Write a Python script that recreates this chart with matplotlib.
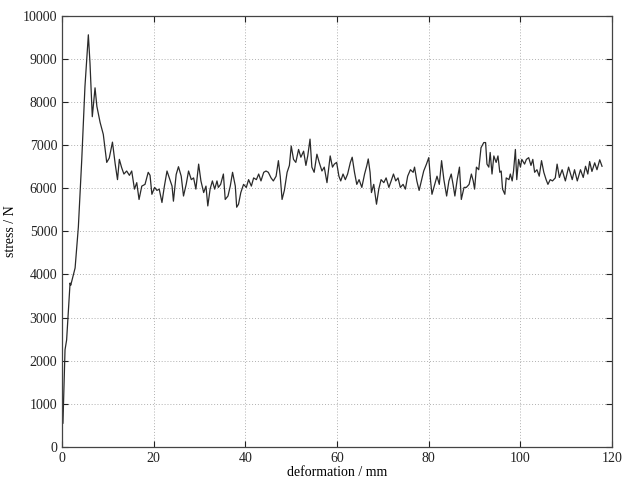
import matplotlib
matplotlib.use("Agg")
import matplotlib.pyplot as plt

deformation_mm = [
    0.2, 0.65, 1.0, 1.75, 1.9, 2.85, 3.56, 4.3, 5.0, 5.74, 6.1, 6.6, 7.2, 7.6, 8.3, 9.0,
    9.75, 10.3, 11.0, 11.6, 12.1, 12.5, 13.0, 13.5, 14.1, 14.7, 15.2, 15.8, 16.3, 16.8,
    17.4, 18.1, 18.8, 19.2, 19.6, 20.2, 20.7, 21.2, 21.8, 22.3, 22.9, 23.4, 24.0, 24.3,
    24.9, 25.4, 26.0, 26.5, 27.1, 27.6, 28.2, 28.7, 29.2, 29.8, 30.3, 30.9, 31.4, 31.8,
    32.3, 32.8, 33.3, 33.8, 34.1, 34.6, 35.2, 35.6, 36.2, 36.7, 37.2, 37.8, 38.1, 38.5,
    39.0, 39.6, 40.2, 40.7, 41.3, 41.8, 42.4, 42.9, 43.4, 44.0, 44.5, 45.0, 45.6, 46.1,
    46.7, 47.2, 47.6, 48.0, 48.5, 49.1, 49.6, 50.0, 50.5, 51.0, 51.6, 52.1, 52.7, 53.2,
    53.6, 54.1, 54.5, 55.0, 55.6, 56.1, 56.7, 57.2, 57.8, 58.5, 59.0, 59.4, 59.9, 60.4,
    60.8, 61.3, 61.8, 62.3, 62.9, 63.3, 63.8, 64.3, 64.8, 65.4, 66.0, 66.5, 66.8, 67.2,
    67.5, 68.0, 68.6, 69.1, 69.6, 70.2, 70.7, 71.3, 71.8, 72.3, 72.8, 73.3, 73.8, 74.4,
    74.9, 75.4, 76.0, 76.6, 76.9, 77.4, 77.9, 78.4, 78.9, 79.5, 80.0, 80.4, 80.7, 81.2,
    81.8, 82.3, 82.8, 83.3, 83.9, 84.4, 84.9, 85.3, 85.7, 86.2, 86.7, 87.1, 87.7, 88.2,
    88.8, 89.3, 89.7, 90.0, 90.4, 90.9, 91.4, 92.0, 92.4, 92.7, 93.1, 93.4, 93.8, 94.2,
    94.7, 95.1, 95.5, 95.8, 96.1, 96.6, 96.9, 97.5, 97.8, 98.2, 98.5, 98.9, 99.2, 99.6,
    100.0, 100.3, 100.9, 101.3, 101.8, 102.3, 102.7, 103.1, 103.6, 104.1, 104.6, 105.1,
    105.6, 106.0, 106.5, 107.0, 107.6, 108.0, 108.5, 109.1, 109.8, 110.5, 111.3, 111.8,
    112.4, 113.1, 113.7, 114.2, 114.7, 115.1, 115.6, 116.2, 116.7, 117.3, 117.8,
]

stress_N = [
    550, 2250, 2480, 3800, 3750, 4150, 5100, 6660, 8360, 9560, 8900, 7660, 8330, 7900, 7530, 7250,
    6600, 6700, 7070, 6560, 6200, 6670, 6480, 6330, 6400, 6300, 6400, 5980, 6130, 5740,
    6050, 6090, 6370, 6300, 5860, 6020, 5950, 5980, 5670, 6030, 6400, 6240, 6050, 5700,
    6320, 6500, 6280, 5820, 6100, 6400, 6200, 6240, 5980, 6560, 6170, 5900, 6050, 5590,
    5980, 6170, 5980, 6170, 6020, 6090, 6330, 5740, 5820, 6050, 6370, 6050, 5560, 5630,
    5900, 6090, 6020, 6200, 6050, 6240, 6200, 6330, 6170, 6370, 6400, 6370, 6240, 6170,
    6280, 6640, 6280, 5740, 5950, 6370, 6530, 6980, 6670, 6600, 6900, 6720, 6860, 6530,
    6750, 7140, 6490, 6370, 6790, 6600, 6400, 6490, 6130, 6750, 6490, 6560, 6600, 6280,
    6170, 6330, 6200, 6330, 6600, 6720, 6370, 6090, 6200, 6020, 6330, 6530, 6680, 6370,
    5900, 6090, 5630, 5980, 6200, 6130, 6240, 6020, 6170, 6330, 6170, 6240, 6020, 6090,
    5980, 6280, 6430, 6370, 6490, 6170, 5950, 6170, 6400, 6560, 6710, 6170, 5860, 6050,
    6280, 6090, 6640, 6200, 5820, 6170, 6330, 6090, 5820, 6200, 6490, 5740, 6020, 6020,
    6090, 6330, 6170, 5980, 6490, 6430, 6940, 7060, 7060, 6560, 6490, 6830, 6330, 6750,
    6600, 6750, 6370, 6400, 5980, 5860, 6240, 6200, 6330, 6170, 6400, 6900, 6200, 6670,
    6490, 6670, 6560, 6670, 6710, 6530, 6670, 6370, 6430, 6280, 6640, 6370,
    6200, 6090, 6200, 6170, 6240, 6560, 6250, 6430, 6170, 6490, 6200, 6430,
    6170, 6430, 6250, 6510, 6330, 6620, 6390, 6590, 6430, 6660, 6510,
]

x_ticks = [0, 20, 40, 60, 80, 100, 120]
y_ticks = [0, 1000, 2000, 3000, 4000, 5000, 6000, 7000, 8000, 9000, 10000]

plt.rcParams['font.family'] = ['Liberation Serif', 'DejaVu Serif']

fig = plt.figure(figsize=(6.33, 4.8), dpi=100)
ax = fig.add_axes([0.098, 0.069, 0.869, 0.898])

ax.plot(deformation_mm, stress_N, color='#2a2a2a', linewidth=0.9)

ax.set_xlim(0, 120)
ax.set_ylim(0, 10000)
ax.set_xticks(x_ticks)
ax.set_yticks(y_ticks)
ax.set_xticklabels([str(v) for v in x_ticks])
ax.set_yticklabels([str(v) for v in y_ticks])

ax.grid(True, linestyle=(0, (1, 2)), color='#b0b0b0', linewidth=0.7)
ax.tick_params(direction='in', length=4, width=0.8, labelsize=10, top=True, right=True,
               colors='#222222')
for s in ax.spines.values():
    s.set_color('#444444')
    s.set_linewidth(0.9)

ax.set_xlabel('deformation / mm', fontsize=10, labelpad=1)
ax.set_ylabel('stress / N', fontsize=10, labelpad=4)

fig.savefig('out.png', dpi=100)
